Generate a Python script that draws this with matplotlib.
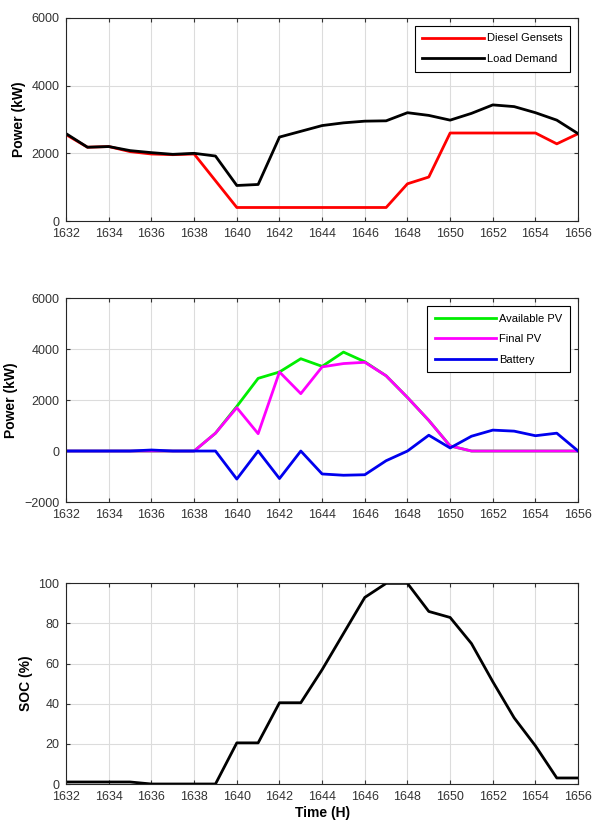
import numpy as np
import matplotlib.pyplot as plt

plt.rcParams['font.family'] = ['Liberation Sans', 'DejaVu Sans']

hours = list(range(1632, 1657))

# top panel
diesel = [2550, 2180, 2200, 2050, 1980, 1960, 1980, 1190, 400, 400, 400, 400, 400,
          400, 400, 400, 1100, 1300, 2600, 2600, 2600, 2600, 2600, 2280, 2580]
load = [2580, 2180, 2200, 2080, 2020, 1970, 2000, 1920, 1050, 1080, 2480, 2650, 2820,
        2900, 2950, 2960, 3200, 3120, 2980, 3180, 3430, 3380, 3200, 2980, 2580]

# middle panel
pv_avail = [0, 0, 0, 0, 0, 0, 0, 700, 1750, 2850, 3100, 3620, 3320,
            3880, 3500, 2950, 2100, 1200, 200, 0, 0, 0, 0, 0, 0]
pv_final = [0, 0, 0, 0, 0, 0, 0, 700, 1700, 680, 3100, 2250, 3300,
            3430, 3480, 2950, 2100, 1200, 200, 0, 0, 0, 0, 0, 0]
battery = [0, 0, 0, 0, 40, 0, 0, 0, -1100, 0, -1080, 0, -900,
           -950, -930, -380, 0, 620, 120, 580, 820, 780, 600, 700, 0]

# bottom panel
soc = [1, 1, 1, 1, 0, 0, 0, 0, 20.5, 20.5, 40.5, 40.5, 57,
       75, 93, 100, 100, 86, 83, 70, 51, 33, 19, 3, 3]

xticks = list(range(1632, 1657, 2))
tick_col = '#333333'


def style_axes(ax):
    ax.set_xlim(1632, 1656)
    ax.set_xticks(xticks)
    ax.grid(True, color='#dcdcdc', linewidth=0.8)
    ax.set_axisbelow(True)
    ax.tick_params(direction='in', length=3, labelsize=9, colors=tick_col,
                   top=True, right=True)
    ax.tick_params(axis='x', pad=5)
    ax.tick_params(axis='y', pad=5)
    for s in ax.spines.values():
        s.set_color('#262626')
        s.set_linewidth(0.8)


def add_legend(ax):
    leg = ax.legend(loc='upper right', fontsize=8, fancybox=False, handlelength=5.5,
                    edgecolor='black', framealpha=1, borderaxespad=0.7,
                    labelspacing=0.95, borderpad=0.7, handletextpad=0.3)
    leg.get_frame().set_linewidth(0.8)


fig = plt.figure(figsize=(5.96, 8.36), dpi=100)
ax1 = fig.add_axes([0.111, 0.7356, 0.859, 0.243])
ax2 = fig.add_axes([0.111, 0.3995, 0.859, 0.244])
ax3 = fig.add_axes([0.111, 0.0622, 0.859, 0.240])

lw = 2.0

ax1.plot(hours, diesel, color='#ff0000', lw=lw, label='Diesel Gensets')
ax1.plot(hours, load, color='black', lw=lw, label='Load Demand')
style_axes(ax1)
ax1.set_ylim(0, 6000)
ax1.set_yticks([0, 2000, 4000, 6000])
ax1.set_ylabel('Power (kW)', fontsize=10, fontweight='bold')
add_legend(ax1)

ax2.plot(hours, pv_avail, color='#00ee00', lw=lw, label='Available PV')
ax2.plot(hours, pv_final, color='#ff00ff', lw=lw, label='Final PV')
ax2.plot(hours, battery, color='#0000ee', lw=lw, label='Battery')
style_axes(ax2)
ax2.set_ylim(-2000, 6000)
ax2.set_yticks([-2000, 0, 2000, 4000, 6000])
ax2.set_ylabel('Power (kW)', fontsize=10, fontweight='bold')
add_legend(ax2)

ax3.plot(hours, soc, color='black', lw=lw)
style_axes(ax3)
ax3.set_ylim(0, 100)
ax3.set_yticks(range(0, 101, 20))
ax3.set_ylabel('SOC (%)', fontsize=10, fontweight='bold')
ax3.set_xlabel('Time (H)', fontsize=10, fontweight='bold', labelpad=2)

fig.savefig('out.png', dpi=100)
